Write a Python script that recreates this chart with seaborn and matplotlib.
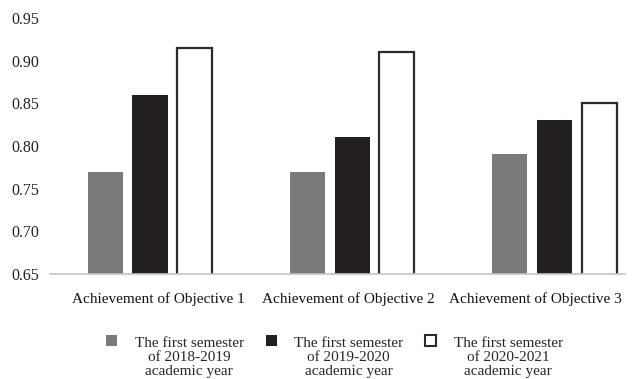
import matplotlib
matplotlib.use("Agg")
import matplotlib.pyplot as plt
import matplotlib.transforms as mtransforms
from matplotlib.patches import Rectangle
from matplotlib.legend_handler import HandlerPatch
import pandas as pd
import seaborn as sns

objectives = ["Achievement of Objective 1", "Achievement of Objective 2", "Achievement of Objective 3"]
semesters = [
    "The first semester\nof 2018-2019\nacademic year",
    "The first semester\nof 2019-2020\nacademic year",
    "The first semester\nof 2020-2021\nacademic year",
]
sem_2018_2019 = [0.77, 0.77, 0.79]
sem_2019_2020 = [0.86, 0.81, 0.83]
sem_2020_2021 = [0.915, 0.91, 0.85]
y_ticks = [0.65, 0.70, 0.75, 0.80, 0.85, 0.90, 0.95]

fills = ["#7a7a7a", "#231f20", "#ffffff"]
edges = ["#7a7a7a", "#231f20", "#2b2b2b"]

df = pd.DataFrame({
    "objective": objectives * 3,
    "semester": [semesters[0]] * 3 + [semesters[1]] * 3 + [semesters[2]] * 3,
    "value": sem_2018_2019 + sem_2019_2020 + sem_2020_2021,
})

sns.set_theme(style="white")
plt.rcParams["font.family"] = ["Liberation Serif", "DejaVu Serif"]

fig = plt.figure(figsize=(6.35, 3.79), dpi=100)
ax = fig.add_axes([0.079, 0.277, 0.905, 0.676])

sns.barplot(data=df, x="objective", y="value", hue="semester",
            hue_order=semesters, palette=fills, width=0.667, gap=0.22,
            ax=ax, legend=False)

# style each hue group: outline the white bars
for i, container in enumerate(ax.containers):
    for bar in container:
        bar.set_facecolor(fills[i])
        bar.set_edgecolor(edges[i])
        bar.set_linewidth(1.6 if i == 2 else 0)

ax.set_ylim(0.65, 0.95)
ax.set_xlim(-0.494, 2.35)
ax.set_yticks(y_ticks)
ax.set_yticklabels([f"{v:.2f}" for v in y_ticks])
ax.set_xlabel("")
ax.set_ylabel("")
ax.tick_params(axis="y", labelsize=11.5, pad=8, length=0, colors="#222222")
ax.tick_params(axis="x", labelsize=11, pad=13, length=0, colors="#111111")
for side in ["left", "right", "top"]:
    ax.spines[side].set_visible(False)
ax.spines["bottom"].set_color("#c4c4c4")
ax.spines["bottom"].set_linewidth(1.2)

# category labels sit on an even spacing slightly narrower than the bar groups
label_shift_px = [8, -4, -19]
for lab, dx in zip(ax.get_xticklabels(), label_shift_px):
    lab.set_transform(lab.get_transform()
                      + mtransforms.ScaledTranslation(dx / 100, 0, fig.dpi_scale_trans))


class TopAlignedSquare(HandlerPatch):
    """Legend square drawn beside the first line of a multi-line label."""

    def __init__(self, shift_pt, **kw):
        super().__init__(**kw)
        self.shift_pt = shift_pt

    def create_artists(self, legend, orig_handle, xdescent, ydescent,
                       width, height, fontsize, trans):
        p = Rectangle(xy=(-xdescent, -ydescent + self.shift_pt), width=width, height=height)
        self.update_prop(p, orig_handle, legend)
        p.set_transform(trans)
        return [p]


handles = [
    Rectangle((0, 0), 1, 1, facecolor=fills[0], edgecolor=fills[0], linewidth=0),
    Rectangle((0, 0), 1, 1, facecolor=fills[1], edgecolor=fills[1], linewidth=0),
    Rectangle((0, 0), 1, 1, facecolor="#ffffff", edgecolor="#2b2b2b", linewidth=1.5),
]
leg = fig.legend(handles, semesters, loc="upper center", ncol=3,
                 bbox_to_anchor=(0.527, 0.147), frameon=False,
                 fontsize=11, handlelength=0.7, handleheight=0.7,
                 handletextpad=1.15, columnspacing=1.45,
                 handler_map={Rectangle: TopAlignedSquare(12)})
for t in leg.get_texts():
    t.set_multialignment("center")
    t.set_linespacing(1.12)

fig.savefig("out.png", dpi=100)
